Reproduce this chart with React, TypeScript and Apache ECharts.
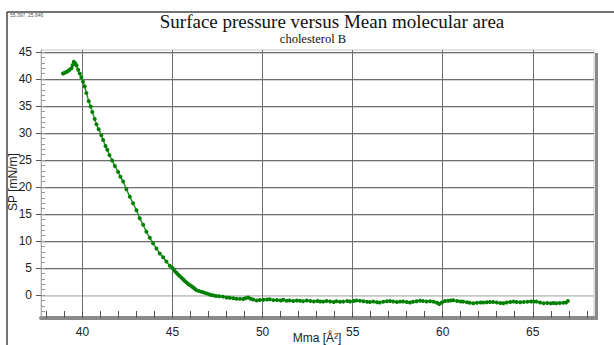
import React, { useEffect, useRef } from "react";
import * as echarts from "echarts";

const mma: number[] = [
  38.92, 39.02, 39.11, 39.2, 39.29, 39.39, 39.46, 39.52, 39.6, 39.67,
  39.76, 39.85, 39.94, 40.03, 40.13, 40.22, 40.35, 40.46, 40.55, 40.68,
  40.78, 40.9, 41.05, 41.15, 41.28, 41.38, 41.5, 41.65, 41.8, 41.98,
  42.11, 42.26, 42.44, 42.63, 42.81, 43.0, 43.18, 43.37, 43.55, 43.74,
  43.92, 44.11, 44.29, 44.48, 44.66, 44.85, 45.0, 45.11, 45.22, 45.31,
  45.4, 45.5, 45.59, 45.68, 45.78, 45.87, 45.96, 46.06, 46.15, 46.24,
  46.33, 46.46, 46.6, 46.74, 46.88, 47.02, 47.15, 47.29, 47.43, 47.6,
  47.8, 48.0, 48.18, 48.37, 48.55, 48.74, 48.92, 49.05, 49.2, 49.34,
  49.48, 49.67, 49.85, 50.05, 50.25, 50.4, 50.6, 50.8, 51.0, 51.15,
  51.33, 51.5, 51.7, 51.9, 52.07, 52.25, 52.45, 52.65, 52.85, 53.05,
  53.2, 53.37, 53.55, 53.75, 53.95, 54.1, 54.3, 54.48, 54.7, 54.86,
  55.05, 55.2, 55.4, 55.6, 55.8, 55.96, 56.15, 56.35, 56.5, 56.7,
  56.9, 57.07, 57.25, 57.45, 57.63, 57.8, 58.0, 58.18, 58.35, 58.55,
  58.74, 58.9, 59.1, 59.3, 59.5, 59.68, 59.81, 59.95, 60.13, 60.3,
  60.45, 60.59, 60.8, 61.0, 61.15, 61.35, 61.5, 61.7, 61.9, 62.1,
  62.26, 62.45, 62.62, 62.8, 63.0, 63.2, 63.37, 63.55, 63.75, 63.93,
  64.1, 64.3, 64.5, 64.7, 64.9, 65.05, 65.2, 65.4, 65.6, 65.8,
  66.0, 66.15, 66.3, 66.5, 66.7, 66.85, 66.95,
];

const sp: number[] = [
  41.0, 41.15, 41.3, 41.5, 41.7, 42.0, 42.6, 43.2, 42.9, 42.5,
  41.7, 41.0, 40.3, 39.5, 38.6, 37.4, 35.9, 34.9, 33.9, 32.6,
  31.6, 30.7, 29.6, 28.7, 27.6, 26.9, 25.9, 24.9, 23.9, 22.8,
  21.9, 21.0, 19.6, 18.2, 17.0, 15.7, 14.2, 13.0, 11.7, 10.6,
  9.6, 8.6, 7.7, 7.0, 6.2, 5.4, 5.0, 4.5, 4.1, 3.8,
  3.5, 3.2, 2.9, 2.6, 2.3, 2.05, 1.85, 1.6, 1.4, 1.15,
  0.9, 0.75, 0.6, 0.45, 0.3, 0.15, 0.0, -0.1, -0.2, -0.25,
  -0.3, -0.45, -0.5, -0.6, -0.7, -0.72, -0.75, -0.6, -0.45, -0.7,
  -0.85, -1.0, -0.93, -0.9, -0.85, -0.8, -0.95, -0.93, -1.0, -0.9,
  -1.05, -1.0, -1.1, -1.0, -1.05, -1.15, -1.0, -1.1, -1.2, -1.1,
  -1.2, -1.23, -1.1, -1.2, -1.3, -1.15, -1.25, -1.23, -1.1, -1.2,
  -1.1, -1.0, -1.05, -1.15, -1.25, -1.3, -1.2, -1.35, -1.4, -1.25,
  -1.15, -1.1, -1.2, -1.3, -1.23, -1.2, -1.3, -1.4, -1.25, -1.15,
  -1.05, -1.1, -1.2, -1.17, -1.25, -1.45, -1.67, -1.4, -1.1, -1.05,
  -1.0, -0.98, -1.1, -1.2, -1.23, -1.35, -1.45, -1.54, -1.45, -1.4,
  -1.4, -1.35, -1.3, -1.3, -1.4, -1.5, -1.54, -1.4, -1.3, -1.23,
  -1.3, -1.35, -1.3, -1.25, -1.2, -1.2, -1.23, -1.4, -1.54, -1.5,
  -1.55, -1.5, -1.54, -1.5, -1.45, -1.4, -1.1,
];

const xMajorTicks: number[] = [40, 45, 50, 55, 60, 65];
const xMinorTicks: number[] = [
  38, 39, 40, 41, 42, 43, 44, 45, 46, 47, 48, 49, 50, 51, 52, 53, 54, 55,
  56, 57, 58, 59, 60, 61, 62, 63, 64, 65, 66, 67, 68,
];
const yMajorTicks: number[] = [0, 5, 10, 15, 20, 25, 30, 35, 40, 45];
const yMinorTicks: number[] = [
  -4, -3, -2, -1, 0, 1, 2, 3, 4, 5, 6, 7, 8, 9, 10, 11, 12, 13, 14, 15, 16,
  17, 18, 19, 20, 21, 22, 23, 24, 25, 26, 27, 28, 29, 30, 31, 32, 33, 34, 35,
  36, 37, 38, 39, 40, 41, 42, 43, 44, 45,
];

const titleText = "Surface pressure versus Mean molecular area";
const subtitleText = "cholesterol B";
const cursorText = "55.397, 25.846";
const xName = "Mma [Å²]";
const yName = "SP [mN/m]";

const X_MIN = 37.7;
const X_MAX = 68.4;
const Y_MIN = -4.26;
const Y_MAX = 45.37;
const Y_SHADOW_SHIFT = 0.3;

export default function App() {
  const ref = useRef<HTMLDivElement>(null);

  useEffect(() => {
    if (!ref.current) return;
    const chart = echarts.init(ref.current, undefined, { renderer: "svg" });
    const sans = "Liberation Sans, Arial, sans-serif";
    const serif = "Liberation Serif, Times New Roman, serif";
    const option: any = {
      animation: false,
      backgroundColor: "#ffffff",
      grid: {
        left: 41,
        right: 20,
        top: 50,
        bottom: 27,
        containLabel: false,
        outerBoundsMode: "none",
        show: true,
        borderColor: "#c8c8c8",
        borderWidth: 1,
        backgroundColor: "transparent",
      },
      xAxis: [
        {
          type: "value",
          min: X_MIN,
          max: X_MAX,
          position: "bottom",
          axisLine: {
            show: true,
            onZero: false,
            lineStyle: { color: "#8a8a8a", width: 4 },
          },
          axisTick: { show: false, customValues: xMajorTicks },
          axisLabel: {
            customValues: xMajorTicks,
            margin: 8,
            fontFamily: sans,
            fontSize: 12,
            color: "#222",
          },
          splitLine: { show: true, lineStyle: { color: "#6e6e6e", width: 1 } },
        },
        {
          type: "value",
          min: X_MIN,
          max: X_MAX,
          position: "bottom",
          axisLine: { show: false, onZero: false },
          axisLabel: { show: false },
          splitLine: { show: false },
          axisTick: {
            show: true,
            inside: true,
            length: 7,
            customValues: xMinorTicks,
            lineStyle: { color: "#555", width: 1 },
          },
        },
      ],
      yAxis: [
        {
          type: "value",
          min: Y_MIN,
          max: Y_MAX,
          position: "left",
          axisLine: {
            show: true,
            onZero: false,
            lineStyle: { color: "#aaaaaa", width: 1 },
          },
          axisTick: {
            show: true,
            inside: false,
            length: 5,
            customValues: yMajorTicks,
            lineStyle: { color: "#555", width: 1 },
          },
          axisLabel: {
            customValues: yMajorTicks,
            margin: 9,
            fontFamily: sans,
            fontSize: 12,
            color: "#222",
          },
          splitLine: {
            show: true,
            lineStyle: {
              color: [
                "#c8c8c8", "#6e6e6e", "#6e6e6e", "#6e6e6e", "#6e6e6e",
                "#6e6e6e", "#6e6e6e", "#6e6e6e", "#6e6e6e", "#6e6e6e",
              ],
              width: 1,
            },
          },
        },
        {
          type: "value",
          min: Y_MIN,
          max: Y_MAX,
          position: "left",
          axisLine: { show: false, onZero: false },
          axisLabel: { show: false },
          splitLine: { show: false },
          axisTick: {
            show: true,
            inside: true,
            length: 4,
            customValues: yMinorTicks,
            lineStyle: { color: "#9a9a9a", width: 1 },
          },
        },
        {
          type: "value",
          min: Y_MIN + Y_SHADOW_SHIFT,
          max: Y_MAX + Y_SHADOW_SHIFT,
          position: "left",
          axisLine: { show: false, onZero: false },
          axisLabel: { show: false, customValues: yMajorTicks },
          axisTick: { show: false, customValues: yMajorTicks },
          splitLine: { show: true, lineStyle: { color: "#d4d4d4", width: 1 } },
        },
      ],
      graphic: [
        {
          type: "line",
          shape: { x1: 7, y1: 12, x2: 614, y2: 12 },
          style: { stroke: "#444", lineWidth: 1.5 },
          silent: true,
        },
        {
          type: "line",
          shape: { x1: 7, y1: 12, x2: 7, y2: 345 },
          style: { stroke: "#444", lineWidth: 1.5 },
          silent: true,
        },
        {
          type: "rect",
          shape: { x: 595, y: 53, width: 3, height: 267 },
          style: { fill: "#8a8a8a" },
          silent: true,
        },
        {
          type: "text",
          x: 10,
          y: 15,
          style: {
            text: cursorText,
            fontSize: 5,
            fontFamily: sans,
            fill: "#555",
            textVerticalAlign: "middle",
          },
          silent: true,
        },
        {
          type: "text",
          x: 332,
          y: 21,
          style: {
            text: titleText,
            fontSize: 19,
            fontFamily: serif,
            fill: "#111",
            textAlign: "center",
            textVerticalAlign: "middle",
          },
          silent: true,
        },
        {
          type: "text",
          x: 313,
          y: 39,
          style: {
            text: subtitleText,
            fontSize: 12.5,
            fontFamily: serif,
            fill: "#111",
            textAlign: "center",
            textVerticalAlign: "middle",
          },
          silent: true,
        },
        {
          type: "text",
          x: 13,
          y: 182,
          rotation: Math.PI / 2,
          style: {
            text: yName,
            fontSize: 12,
            fontFamily: sans,
            fill: "#222",
            textAlign: "center",
            textVerticalAlign: "middle",
          },
          silent: true,
        },
        {
          type: "text",
          x: 317,
          y: 332,
          style: {
            text: xName,
            fontSize: 12,
            fontFamily: sans,
            fill: "#222",
            textAlign: "center",
            textVerticalAlign: "top",
          },
          silent: true,
        },
      ],
      series: [
        {
          type: "line",
          xAxisIndex: 0,
          yAxisIndex: 0,
          data: mma.map((x, i) => [x, sp[i]]),
          symbol: "circle",
          symbolSize: 4,
          showSymbol: true,
          itemStyle: { color: "#008000" },
          lineStyle: { color: "#2a952a", width: 1.5 },
          z: 5,
        },
      ],
    };
    chart.setOption(option);
    return () => chart.dispose();
  }, []);

  return (
    <div
      ref={ref}
      style={{ position: "fixed", left: 0, top: 0, width: 614, height: 345 }}
    />
  );
}
